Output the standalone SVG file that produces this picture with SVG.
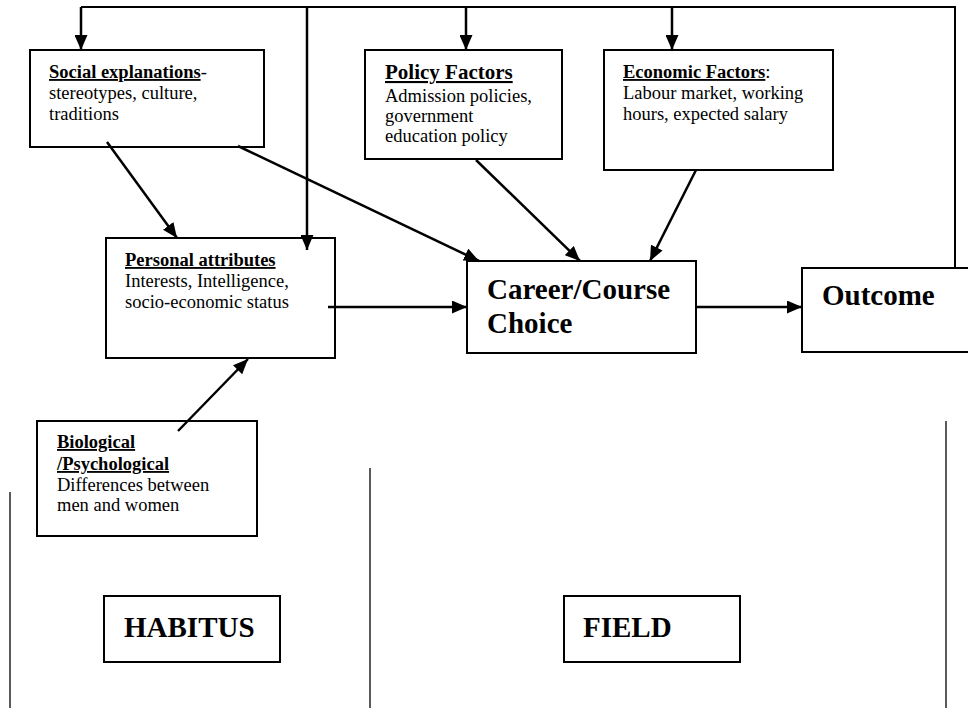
<svg xmlns="http://www.w3.org/2000/svg" width="968" height="708" viewBox="0 0 968 708">
<style>
.box{fill:#fff;stroke:#000;stroke-width:2}
.t{font-family:"Liberation Serif","Times New Roman",serif;font-size:18.5px;fill:#000}
.h{font-weight:bold;text-decoration:underline}
.big{font-family:"Liberation Serif","Times New Roman",serif;font-size:29px;font-weight:bold;fill:#000}
.c{fill:none;stroke:#000;stroke-width:2.5}
.thin{fill:none;stroke:#000;stroke-width:1.3}
</style>
<defs>
<marker id="ah" markerUnits="userSpaceOnUse" markerWidth="15" markerHeight="13" refX="15" refY="6.5" orient="auto">
<path d="M0,0 L15,6.5 L0,13 z" fill="#000"/>
</marker>
</defs>
<rect width="968" height="708" fill="#fff"/>
<g id="social">
<rect class="box" x="30" y="50" width="234" height="97"/>
<text class="t" x="49" y="78"><tspan class="h">Social explanations</tspan>-</text>
<text class="t" x="49" y="99">stereotypes, culture,</text>
<text class="t" x="49" y="120">traditions</text>
</g>
<g id="policy">
<rect class="box" x="365" y="50" width="197" height="109"/>
<text class="t" x="385" y="79" style="font-size:21px"><tspan class="h">Policy Factors</tspan></text>
<text class="t" x="385" y="102">Admission policies,</text>
<text class="t" x="385" y="122">government</text>
<text class="t" x="385" y="142">education policy</text>
</g>
<g id="economic">
<rect class="box" x="604" y="50" width="229" height="120"/>
<text class="t" x="623" y="78"><tspan class="h">Economic Factors</tspan>:</text>
<text class="t" x="623" y="99">Labour market, working</text>
<text class="t" x="623" y="120">hours, expected salary</text>
</g>
<g id="personal">
<rect class="box" x="106" y="238" width="229" height="120"/>
<text class="t" x="125" y="266"><tspan class="h">Personal attributes</tspan></text>
<text class="t" x="125" y="287">Interests, Intelligence,</text>
<text class="t" x="125" y="308">socio-economic status</text>
</g>
<g id="career">
<rect class="box" x="467" y="261" width="229" height="92"/>
<text class="big" x="487" y="299">Career/Course</text>
<text class="big" x="487" y="333">Choice</text>
</g>
<g id="outcome">
<rect class="box" x="802" y="268" width="180" height="84"/>
<text class="big" x="822" y="305">Outcome</text>
</g>
<g id="biological">
<rect class="box" x="37" y="421" width="220" height="115"/>
<text class="t" x="57" y="448"><tspan class="h">Biological</tspan></text>
<text class="t" x="57" y="470"><tspan class="h">/Psychological</tspan></text>
<text class="t" x="57" y="491">Differences between</text>
<text class="t" x="57" y="511">men and women</text>
</g>
<g id="habitus">
<rect class="box" x="104" y="596" width="176" height="66"/>
<text class="big" x="124" y="637">HABITUS</text>
</g>
<g id="field">
<rect class="box" x="564" y="596" width="176" height="66"/>
<text class="big" x="583" y="637">FIELD</text>
</g>
<g id="connectors">
<polyline class="thin" points="81,7 955,7 955,268" style="stroke-width:2"/>
<line class="c" x1="81" y1="7" x2="81" y2="50" marker-end="url(#ah)"/>
<line class="c" x1="307" y1="8" x2="307" y2="250" marker-end="url(#ah)"/>
<line class="c" x1="466" y1="8" x2="466" y2="50" marker-end="url(#ah)"/>
<line class="c" x1="672" y1="8" x2="672" y2="50" marker-end="url(#ah)"/>
<line class="c" x1="107" y1="142" x2="177" y2="238" marker-end="url(#ah)"/>
<line class="c" x1="238" y1="146" x2="479" y2="261" marker-end="url(#ah)"/>
<line class="c" x1="476" y1="160" x2="580" y2="261" marker-end="url(#ah)"/>
<line class="c" x1="696" y1="170" x2="650" y2="261" marker-end="url(#ah)"/>
<line class="c" x1="328" y1="307" x2="467" y2="307" marker-end="url(#ah)"/>
<line class="c" x1="696" y1="307" x2="802" y2="307" marker-end="url(#ah)"/>
<line class="c" x1="178" y1="431" x2="248" y2="359" marker-end="url(#ah)"/>
<line class="thin" x1="10" y1="492" x2="10" y2="708"/>
<line class="thin" x1="370" y1="468" x2="370" y2="708"/>
<line class="thin" x1="946" y1="421" x2="946" y2="708"/>
</g>
</svg>
